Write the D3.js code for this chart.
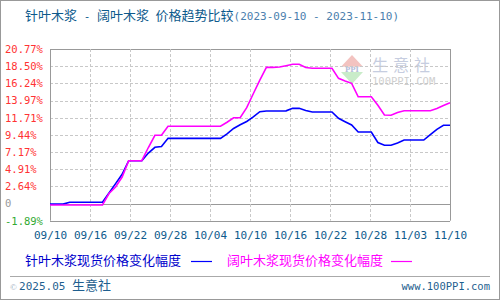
<!DOCTYPE html>
<html>
<head>
<meta charset="utf-8">
<script src="https://cdn.jsdelivr.net/npm/d3@7"></script>
<style>
    body { margin: 0; background: #fff; }
    svg { display: block; }
    .cjk { font-family: "Noto Sans CJK SC", sans-serif; }
    .mono { font-family: "DejaVu Sans Mono", monospace; white-space: pre; }
</style>
</head>
<body>
<svg id="chart" width="500" height="300"></svg>
<script>
// Data, one value per day, 09/10 .. 11/10 (62 days).
var softwoodChange = [
    0.30, 0.30, 0.30, 0.55, 0.55, 0.55, 0.55, 0.55, 0.55, 1.76,
    3.00, 4.23, 6.03, 6.03, 6.03, 7.04, 7.80, 7.90, 8.98, 8.98,
    8.98, 8.98, 8.98, 8.98, 8.98, 8.98, 8.98, 9.56, 10.28, 10.77,
    11.20, 11.81, 12.49, 12.59, 12.59, 12.59, 12.61, 12.94, 12.94, 12.65,
    12.45, 12.45, 12.45, 12.45, 11.62, 11.17, 10.74, 9.81, 9.81, 9.81,
    8.43, 8.06, 8.06, 8.36, 8.76, 8.76, 8.76, 8.76, 9.48, 10.17,
    10.70, 10.70
];
var hardwoodChange = [
    0.18, 0.18, 0.18, 0.18, 0.18, 0.18, 0.18, 0.18, 0.18, 1.70,
    2.55, 3.87, 6.03, 6.03, 6.03, 7.77, 9.38, 9.38, 10.57, 10.57,
    10.57, 10.57, 10.57, 10.57, 10.57, 10.57, 10.57, 11.10, 11.70, 11.70,
    13.03, 14.86, 16.65, 18.35, 18.35, 18.40, 18.57, 18.75, 18.75, 18.33,
    18.22, 18.22, 18.22, 18.22, 16.90, 16.55, 16.24, 14.47, 14.47, 14.47,
    13.34, 12.06, 12.02, 12.39, 12.63, 12.63, 12.63, 12.63, 12.63, 12.92,
    13.31, 13.68
];
var xTickLabels = ['09/10', '09/16', '09/22', '09/28', '10/04', '10/10', '10/16', '10/22', '10/28', '11/03', '11/10'];
var yTickLabels = ['-1.89%', '0', '2.64%', '4.91%', '7.17%', '9.44%', '11.71%', '13.97%', '16.24%', '18.50%', '20.77%'];
var yMin = -1.89, yMax = 20.77;

var svg = d3.select('#chart'),
    plot = { left: 50, top: 49, right: 450, bottom: 220.7 },
    titleColor = '#0d5a8c',
    gridColor = '#c8c8c8',
    frameColor = '#999';

var x = d3.scaleLinear().domain([0, softwoodChange.length - 1]).range([plot.left, plot.right]);
var y = d3.scaleLinear().domain([yMin, yMax]).range([plot.bottom, plot.top]);

var xTickValues = xTickLabels.map(function (d, i) { return i * (softwoodChange.length - 1) / (xTickLabels.length - 1); });
var yTickValues = yTickLabels.map(function (d, i) { return yMin + i * (yMax - yMin) / (yTickLabels.length - 1); });

// Outer frame
svg.append('rect')
    .attr('x', 0.5).attr('y', 0.5).attr('width', 499).attr('height', 299)
    .attr('fill', '#fff').attr('stroke', frameColor);

// Title (CJK runs with monospace spacers, like the original)
var title = svg.append('text').attr('x', 25).attr('y', 20).attr('fill', titleColor);
[['cjk', '针叶木浆'], ['mono', ' - '], ['cjk', '阔叶木浆'], ['mono', ' '], ['cjk', '价格趋势比较']]
    .forEach(function (part) {
        title.append('tspan').attr('class', part[0])
            .attr('font-size', part[0] === 'cjk' ? 13 : 11).text(part[1]);
    });
title.append('tspan').attr('class', 'mono').attr('font-size', 11).attr('fill', '#4c7fae').text('(2023-09-10 - 2023-11-10)');

// Watermark
var wm = svg.append('g').attr('transform', 'translate(341,55)');
wm.append('path').attr('d', 'M11,0 L22,11.7 L0,11.7 Z').attr('fill', '#f3c3c0');
wm.append('path').attr('d', 'M0,17 L22,17 L11,29 Z').attr('fill', '#c9ecc9');
wm.append('text').attr('x', 11).attr('y', 16.6).attr('text-anchor', 'middle')
    .attr('font-family', 'DejaVu Serif').attr('font-weight', 'bold').attr('font-size', 7)
    .attr('fill', '#b4bcd8').text('PPI');
wm.append('text').attr('class', 'cjk').attr('x', 31).attr('y', 16).attr('font-size', 16)
    .attr('letter-spacing', 5).attr('fill', '#c6cde0').text('生意社');
wm.append('text').attr('class', 'mono').attr('x', 31).attr('y', 30).attr('font-size', 10.5)
    .attr('fill', '#cfcfcf').text('100PPI.COM');

// Horizontal grid
svg.append('g')
    .selectAll('line')
    .data(yTickValues)
    .join('line')
    .attr('x1', plot.left).attr('x2', plot.right)
    .attr('y1', function (d) { return Math.round(y(d)) + 0.5; })
    .attr('y2', function (d) { return Math.round(y(d)) + 0.5; })
    .attr('stroke', function (d, i) { return (i === 1 || i === 0 || i === yTickValues.length - 1) ? frameColor : gridColor; })
    .attr('stroke-dasharray', function (d, i) { return (i === 1 || i === 0 || i === yTickValues.length - 1) ? null : '3,2'; });

// Vertical grid
svg.append('g')
    .selectAll('line')
    .data(xTickValues)
    .join('line')
    .attr('x1', function (d) { return Math.round(x(d)) + 0.5; })
    .attr('x2', function (d) { return Math.round(x(d)) + 0.5; })
    .attr('y1', plot.top).attr('y2', plot.bottom)
    .attr('stroke', function (d, i) { return (i === 0 || i === xTickValues.length - 1) ? frameColor : gridColor; })
    .attr('stroke-dasharray', function (d, i) { return (i === 0 || i === xTickValues.length - 1) ? null : '3,2'; });

// Y axis labels
var yAxis = svg.append('g')
    .attr('transform', 'translate(5,0)')
    .call(d3.axisRight(y).tickValues(yTickValues).tickSize(0).tickPadding(0)
        .tickFormat(function (d, i) { return yTickLabels[i]; }));
yAxis.select('.domain').remove();
yAxis.selectAll('text')
    .attr('class', 'mono')
    .attr('font-size', 10.5)
    .attr('fill', function (d, i) { return i === 0 ? '#33aa33' : (i === 1 ? '#999' : '#ff3333'); });

// X axis labels
var xAxis = svg.append('g')
    .attr('transform', 'translate(0,' + (plot.bottom + 10) + ')')
    .call(d3.axisBottom(x).tickValues(xTickValues).tickSize(0).tickPadding(0)
        .tickFormat(function (d, i) { return xTickLabels[i]; }));
xAxis.select('.domain').remove();
xAxis.selectAll('text')
    .attr('class', 'mono')
    .attr('font-size', 11)
    .attr('fill', titleColor);

// Series lines
var line = d3.line()
    .x(function (d, i) { return x(i); })
    .y(function (d) { return y(d); });

svg.append('path').datum(softwoodChange)
    .attr('d', line).attr('fill', 'none').attr('stroke', '#0000ff').attr('stroke-width', 1.6);
svg.append('path').datum(hardwoodChange)
    .attr('d', line).attr('fill', 'none').attr('stroke', '#ff00ff').attr('stroke-width', 1.6);

// Legend
var legendY = 265;
svg.append('text').attr('class', 'cjk').attr('x', 25).attr('y', legendY)
    .attr('font-size', 13).attr('fill', '#0000cc').text('针叶木浆现货价格变化幅度');
svg.append('line').attr('x1', 191).attr('x2', 212).attr('y1', 261.5).attr('y2', 261.5)
    .attr('stroke', '#0000ff').attr('stroke-width', 1.2);
svg.append('text').attr('class', 'cjk').attr('x', 227).attr('y', legendY)
    .attr('font-size', 13).attr('fill', '#ff00ff').text('阔叶木浆现货价格变化幅度');
svg.append('line').attr('x1', 391).attr('x2', 412).attr('y1', 261.5).attr('y2', 261.5)
    .attr('stroke', '#ff00ff').attr('stroke-width', 1.2);

// Footer
svg.append('line').attr('x1', 10).attr('x2', 490).attr('y1', 276.5).attr('y2', 276.5)
    .attr('stroke', '#aaa');
var foot = svg.append('text').attr('x', 10).attr('y', 290).attr('fill', '#1f5f8f');
foot.append('tspan').attr('font-size', 9).attr('fill', '#9ab').text('© ');
foot.append('tspan').attr('class', 'mono').attr('font-size', 11).text('2025.05 ');
foot.append('tspan').attr('class', 'cjk').attr('font-size', 13).text('生意社');
svg.append('text').attr('class', 'mono').attr('x', 490).attr('y', 290)
    .attr('text-anchor', 'end').attr('font-size', 10.5).attr('fill', '#1f5f8f')
    .text('www.100PPI.com');
</script>
</body>
</html>
